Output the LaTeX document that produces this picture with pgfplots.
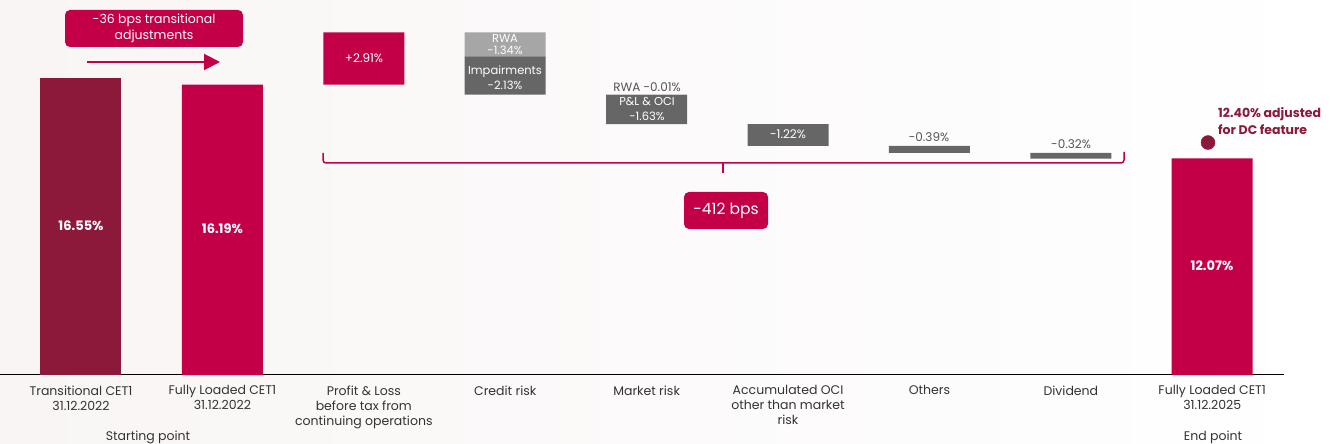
\documentclass[border=0pt]{standalone}
\usepackage{fontspec}
\setmainfont{Poppins}
\usepackage{pgfplots}
\pgfplotsset{compat=1.18}
\usetikzlibrary{arrows.meta}
\definecolor{maroon}{HTML}{8C183A}
\definecolor{crimson}{HTML}{C30047}
\definecolor{dgray}{HTML}{666666}
\definecolor{lgray}{HTML}{A6A6A6}
\definecolor{txtgray}{HTML}{333333}
\definecolor{lblgray}{HTML}{555555}
\definecolor{bg}{HTML}{F9F5F5}
\definecolor{baseline}{HTML}{DADADA}

\begin{document}
\begin{tikzpicture}
\useasboundingbox (0,-69pt) rectangle (1330pt,375pt);
\shade[left color=bg, right color=white] (0,-69pt) rectangle (1330pt,375pt);
\draw[baseline, line width=0.8pt] (0,1pt) -- (1284pt,1pt);

\begin{axis}[
  scale only axis, width=1330pt, height=375pt,
  xmin=-0.5728, xmax=8.833, ymin=0, ymax=20.903,
  axis line style={draw=none},
  ybar stacked, bar width=81pt,
  xtick={0,...,8}, ytick=\empty,
  major tick length=0pt,
  xticklabels={{Transitional CET1\\31.12.2022},{Fully Loaded CET1\\31.12.2022},
    {Profit \& Loss\\before tax from\\continuing operations},{Credit risk},{Market risk},
    {Accumulated OCI\\other than market\\risk},{Others},{Dividend},{Fully Loaded CET1\\31.12.2025}},
  xticklabel style={align=center, text=txtgray, font=\fontsize{12.5}{15}\selectfont, yshift=-7pt},
  clip=false,
]
% invisible base of the floating bars
\addplot[draw=none, fill=none] coordinates {(0,0)(1,0)(2,16.19)(3,15.63)(4,13.99)(5,12.77)(6,12.38)(7,12.06)(8,0)};
\addplot[draw=none, fill=dgray] coordinates {(0,0)(1,0)(2,0)(3,2.13)(4,1.63)(5,1.22)(6,0.39)(7,0.32)(8,0)};
\addplot[draw=none, fill=lgray] coordinates {(0,0)(1,0)(2,0)(3,1.34)(4,0.01)(5,0)(6,0)(7,0)(8,0)};
\addplot[draw=none, fill=maroon] coordinates {(0,16.55)(1,0)(2,0)(3,0)(4,0)(5,0)(6,0)(7,0)(8,0)};
\addplot[draw=none, fill=crimson] coordinates {(0,0)(1,16.19)(2,2.91)(3,0)(4,0)(5,0)(6,0)(7,0)(8,12.07)};
\end{axis}

\begin{axis}[
  scale only axis, width=1330pt, height=375pt,
  xmin=-0.5728, xmax=8.833, ymin=0, ymax=20.903,
  hide axis, clip=false,
]
\addplot[only marks, mark=*, mark size=7pt, color=maroon, mark options={yshift=10pt}] coordinates {(7.97,12.40)};
\end{axis}

% bar labels
\begin{scope}[every node/.style={text=white, align=center, inner sep=0pt}]
\node[font=\bfseries\fontsize{13}{15}\selectfont] at (81pt,149pt) {16.55\%};
\node[font=\bfseries\fontsize{13}{15}\selectfont] at (222.4pt,146pt) {16.19\%};
\node[font=\bfseries\fontsize{13}{15}\selectfont] at (1212pt,109pt) {12.07\%};
\node[font=\fontsize{12}{12}\selectfont] at (364pt,317pt) {+2.91\%};
\node[font=\fontsize{11.5}{12}\selectfont] at (505pt,330pt) {RWA\\-1.34\%};
\node[font=\fontsize{11.5}{14.5}\selectfont] at (505pt,297.5pt) {Impairments\\-2.13\%};
\node[font=\fontsize{11.5}{14.5}\selectfont] at (647pt,266pt) {P\&L \& OCI\\-1.63\%};
\node[font=\fontsize{12}{12}\selectfont] at (788pt,241pt) {-1.22\%};
\end{scope}
\begin{scope}[every node/.style={text=lblgray, inner sep=0pt, font=\fontsize{12}{12}\selectfont}]
\node at (647pt,288pt) {RWA -0.01\%};
\node at (929pt,238pt) {-0.39\%};
\node at (1071pt,231pt) {-0.32\%};
\end{scope}

% annotations
\node[fill=crimson, rounded corners=5pt, text=white, minimum width=178pt, minimum height=37pt,
  align=center, inner sep=0pt, font=\fontsize{12.5}{16}\selectfont] at (154pt,346.5pt)
  {-36 bps transitional\\adjustments};
\draw[crimson, line width=2pt, -{Triangle[length=16pt,width=16pt]}] (87pt,313pt) -- (220pt,313pt);
\draw[crimson, line width=1.5pt, rounded corners=3pt] (323pt,222pt) -- (323pt,212pt) -- (1124pt,212pt) -- (1124pt,223pt);
\draw[crimson, line width=1.5pt] (723pt,212pt) -- (723pt,202pt);
\node[fill=crimson, rounded corners=5pt, text=white, minimum width=84pt, minimum height=37pt,
  inner sep=0pt, font=\fontsize{15.5}{17}\selectfont] at (726pt,164.5pt) {-412 bps};
\node[anchor=west, align=left, text=maroon, inner sep=0pt, font=\bfseries\fontsize{12.5}{17}\selectfont]
  at (1218pt,253.5pt) {12.40\% adjusted\\for DC feature};
\node[text=txtgray, inner sep=0pt, font=\fontsize{12.5}{15}\selectfont] at (148pt,-62pt) {Starting point};
\node[text=txtgray, inner sep=0pt, font=\fontsize{12.5}{15}\selectfont] at (1213pt,-62pt) {End point};
\end{tikzpicture}
\end{document}
